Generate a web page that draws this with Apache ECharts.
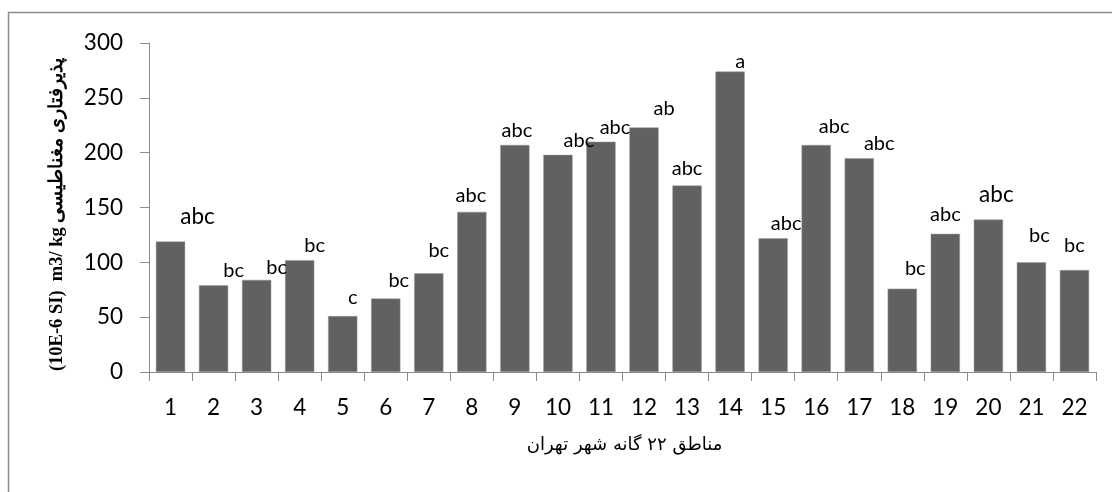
<!DOCTYPE html>
<html>
<head>
<meta charset="utf-8">
<script src="https://cdn.jsdelivr.net/npm/echarts@6/dist/echarts.min.js"></script>
<style>html,body{margin:0;padding:0;background:#fff;}#c{width:1112px;height:492px;}</style>
</head>
<body>
<div id="c"></div>
<script>
var categories = ['1','2','3','4','5','6','7','8','9','10','11','12','13','14','15','16','17','18','19','20','21','22'];
var values = [119, 79, 84, 102, 51, 67, 90, 146, 207, 198, 210, 223, 170, 274, 122, 207, 195, 76, 126, 139, 100, 93];
var letters = ['abc','bc','bc','bc','c','bc','bc','abc','abc','abc','abc','ab','abc','a','abc','abc','abc','bc','abc','abc','bc','bc'];
var yTicks = [0, 50, 100, 150, 200, 250, 300];

// label placement (pixel nudges, style only)
var labelDx = [27,20,20,15,10,13,10,-1,2,21,14,20,0,10,13,18,20,13,0,8,8,0];
var labelDy = [-13,-5,-2,-5,-9,-8,-13,-6,-4,-4,-4,-9,-7,0,-5,-8,-5,-10,-9,-13,-17,-14];
var bigLabel = [true,false,false,false,false,false,false,false,false,false,false,false,false,false,false,false,false,false,false,true,false,false];

var data = values.map(function (v, i) {
  return {
    value: v,
    label: {
      formatter: letters[i],
      offset: [labelDx[i], labelDy[i]],
      fontSize: bigLabel[i] ? 22.5 : 20
    }
  };
});

var axisColor = '#8a8a8a';
var chart = echarts.init(document.getElementById('c'));
chart.setOption({
  animation: false,
  graphic: [{
    type: 'rect',
    shape: { x: 8.5, y: 12.5, width: 1120, height: 500 },
    style: { fill: 'none', stroke: '#8c8c8c', lineWidth: 1.5 },
    silent: true
  }],
  grid: { left: 149, right: 16, top: 43, bottom: 120 },
  xAxis: {
    type: 'category',
    data: categories,
    boundaryGap: true,
    name: 'مناطق ۲۲ گانه شهر تهران',
    nameLocation: 'middle',
    nameGap: 64,
    nameTextStyle: { fontSize: 18, color: '#000', fontFamily: 'DejaVu Sans', padding: [0, 0, 0, 4] },
    axisLine: { lineStyle: { color: axisColor, width: 1 } },
    axisTick: { show: true, alignWithLabel: false, length: 9, lineStyle: { color: axisColor } },
    axisLabel: { fontSize: 22.5, color: '#000', fontFamily: 'Lato', margin: 24 },
    splitLine: { show: false }
  },
  yAxis: {
    type: 'value',
    min: 0, max: 300, interval: 50,
    name: '(10E-6 SI)  m3/ kg پذیرفتاری مغناطیسی',
    nameLocation: 'middle',
    nameGap: 82,
    nameRotate: 90,
    nameTextStyle: { fontSize: 18.5, fontWeight: 'bold', color: '#000', fontFamily: 'Liberation Serif', padding: [0, 14, 0, 0] },
    axisLine: { show: true, lineStyle: { color: axisColor, width: 1 } },
    axisTick: { show: true, length: 9, lineStyle: { color: axisColor } },
    axisLabel: {
      fontSize: 22.5, color: '#000', fontFamily: 'Lato', margin: 26,
      formatter: function (v) { return yTicks.indexOf(v) >= 0 ? String(v) : ''; }
    },
    splitLine: { show: false }
  },
  series: [{
    type: 'bar',
    data: data,
    barCategoryGap: '32%',
    itemStyle: { color: '#616161', borderColor: '#9a9a9a', borderWidth: 0.5 },
    label: {
      show: true,
      position: 'top',
      distance: 0,
      color: '#000',
      fontFamily: 'Lato'
    }
  }]
});
</script>
</body>
</html>
